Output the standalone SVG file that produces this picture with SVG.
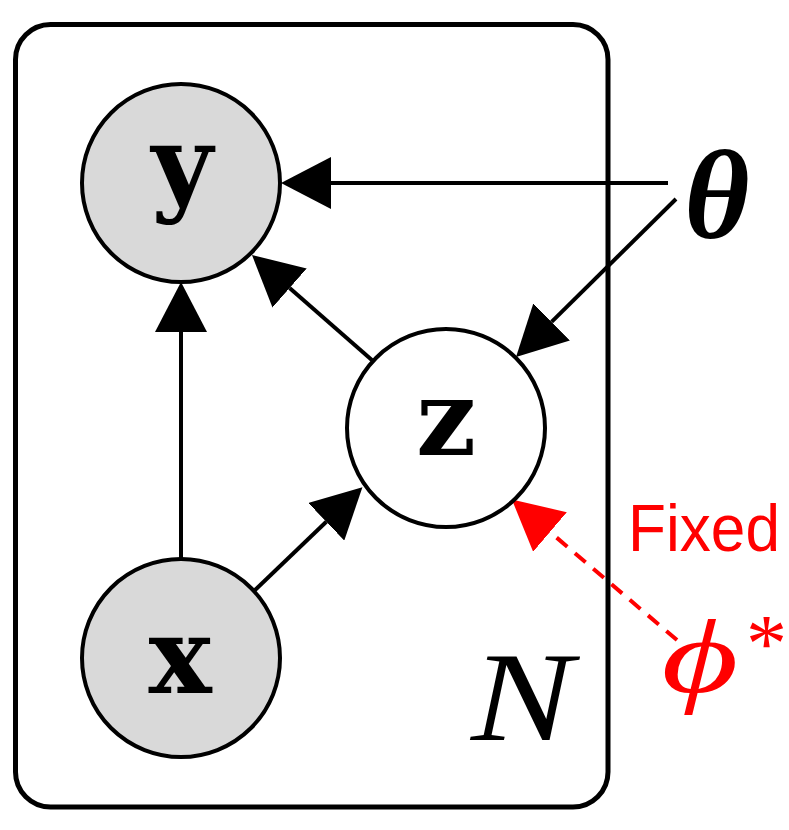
<svg xmlns="http://www.w3.org/2000/svg" width="789" height="830" viewBox="0 0 789 830">
<style>
.node{stroke:#000;stroke-width:4}
.obs{fill:#d9d9d9}
.lat{fill:#fff}
.edge{stroke:#000;stroke-width:4;fill:none}
.fixed{stroke:#f00;stroke-width:4;fill:none;stroke-dasharray:14 10}
.lbl{font-family:"DejaVu Serif","Liberation Serif",serif;font-weight:bold;font-size:106px;text-anchor:middle}
</style>
<defs>
<marker id="ah" viewBox="0 0 50 52" refX="0" refY="26" markerWidth="50" markerHeight="52" markerUnits="userSpaceOnUse" orient="auto">
<path d="M0,0 L50,26 L0,52 z" fill="#000"/>
</marker>
<marker id="ahr" viewBox="0 0 50 52" refX="0" refY="26" markerWidth="50" markerHeight="52" markerUnits="userSpaceOnUse" orient="auto">
<path d="M0,0 L50,26 L0,52 z" fill="#f00"/>
</marker>
</defs>
<rect id="plate" x="15.5" y="24.5" width="592.5" height="782.5" rx="35" fill="none" stroke="#000" stroke-width="5"/>
<g id="connectors">
<line class="edge" x1="668" y1="183" x2="331" y2="183" marker-end="url(#ah)"/>
<line class="edge" x1="676" y1="199" x2="551.6" y2="321.9" marker-end="url(#ah)"/>
<line class="edge" x1="373" y1="361" x2="289.6" y2="288" marker-end="url(#ah)"/>
<line class="edge" x1="181" y1="559" x2="181" y2="332" marker-end="url(#ah)"/>
<line class="edge" x1="254" y1="591" x2="326.3" y2="521.8" marker-end="url(#ah)"/>
<line class="fixed" x1="677" y1="640" x2="550" y2="532" marker-end="url(#ahr)"/>
</g>
<g id="node-y">
<circle class="node obs" cx="181" cy="183" r="99"/>
<text class="lbl" x="182" y="201">y</text>
</g>
<g id="node-z">
<circle class="node lat" cx="446" cy="428" r="99"/>
<text class="lbl" x="446" y="455">z</text>
</g>
<g id="node-x">
<circle class="node obs" cx="181" cy="658" r="99"/>
<text class="lbl" x="180" y="693">x</text>
</g>
<g id="node-theta">
<text x="717" y="238" font-family="Liberation Serif,serif" font-style="italic" font-weight="bold" font-size="126" text-anchor="middle">θ</text>
</g>
<g id="node-phi">
<text transform="translate(700,692) scale(1.4,1)" x="0" y="0" font-family="Liberation Serif,DejaVu Serif,serif" font-style="italic" font-size="106" text-anchor="middle" fill="#f00">ϕ</text>
<text x="746" y="671" font-family="Liberation Serif,serif" font-size="82" fill="#f00">*</text>
</g>
<text x="628" y="551" font-family="Liberation Sans,Arial,sans-serif" font-size="66" fill="#f00" textLength="152" lengthAdjust="spacingAndGlyphs">Fixed</text>
<text x="522" y="740" font-family="Liberation Serif,serif" font-style="italic" font-size="126" text-anchor="middle" textLength="102" lengthAdjust="spacingAndGlyphs">N</text>
</svg>
